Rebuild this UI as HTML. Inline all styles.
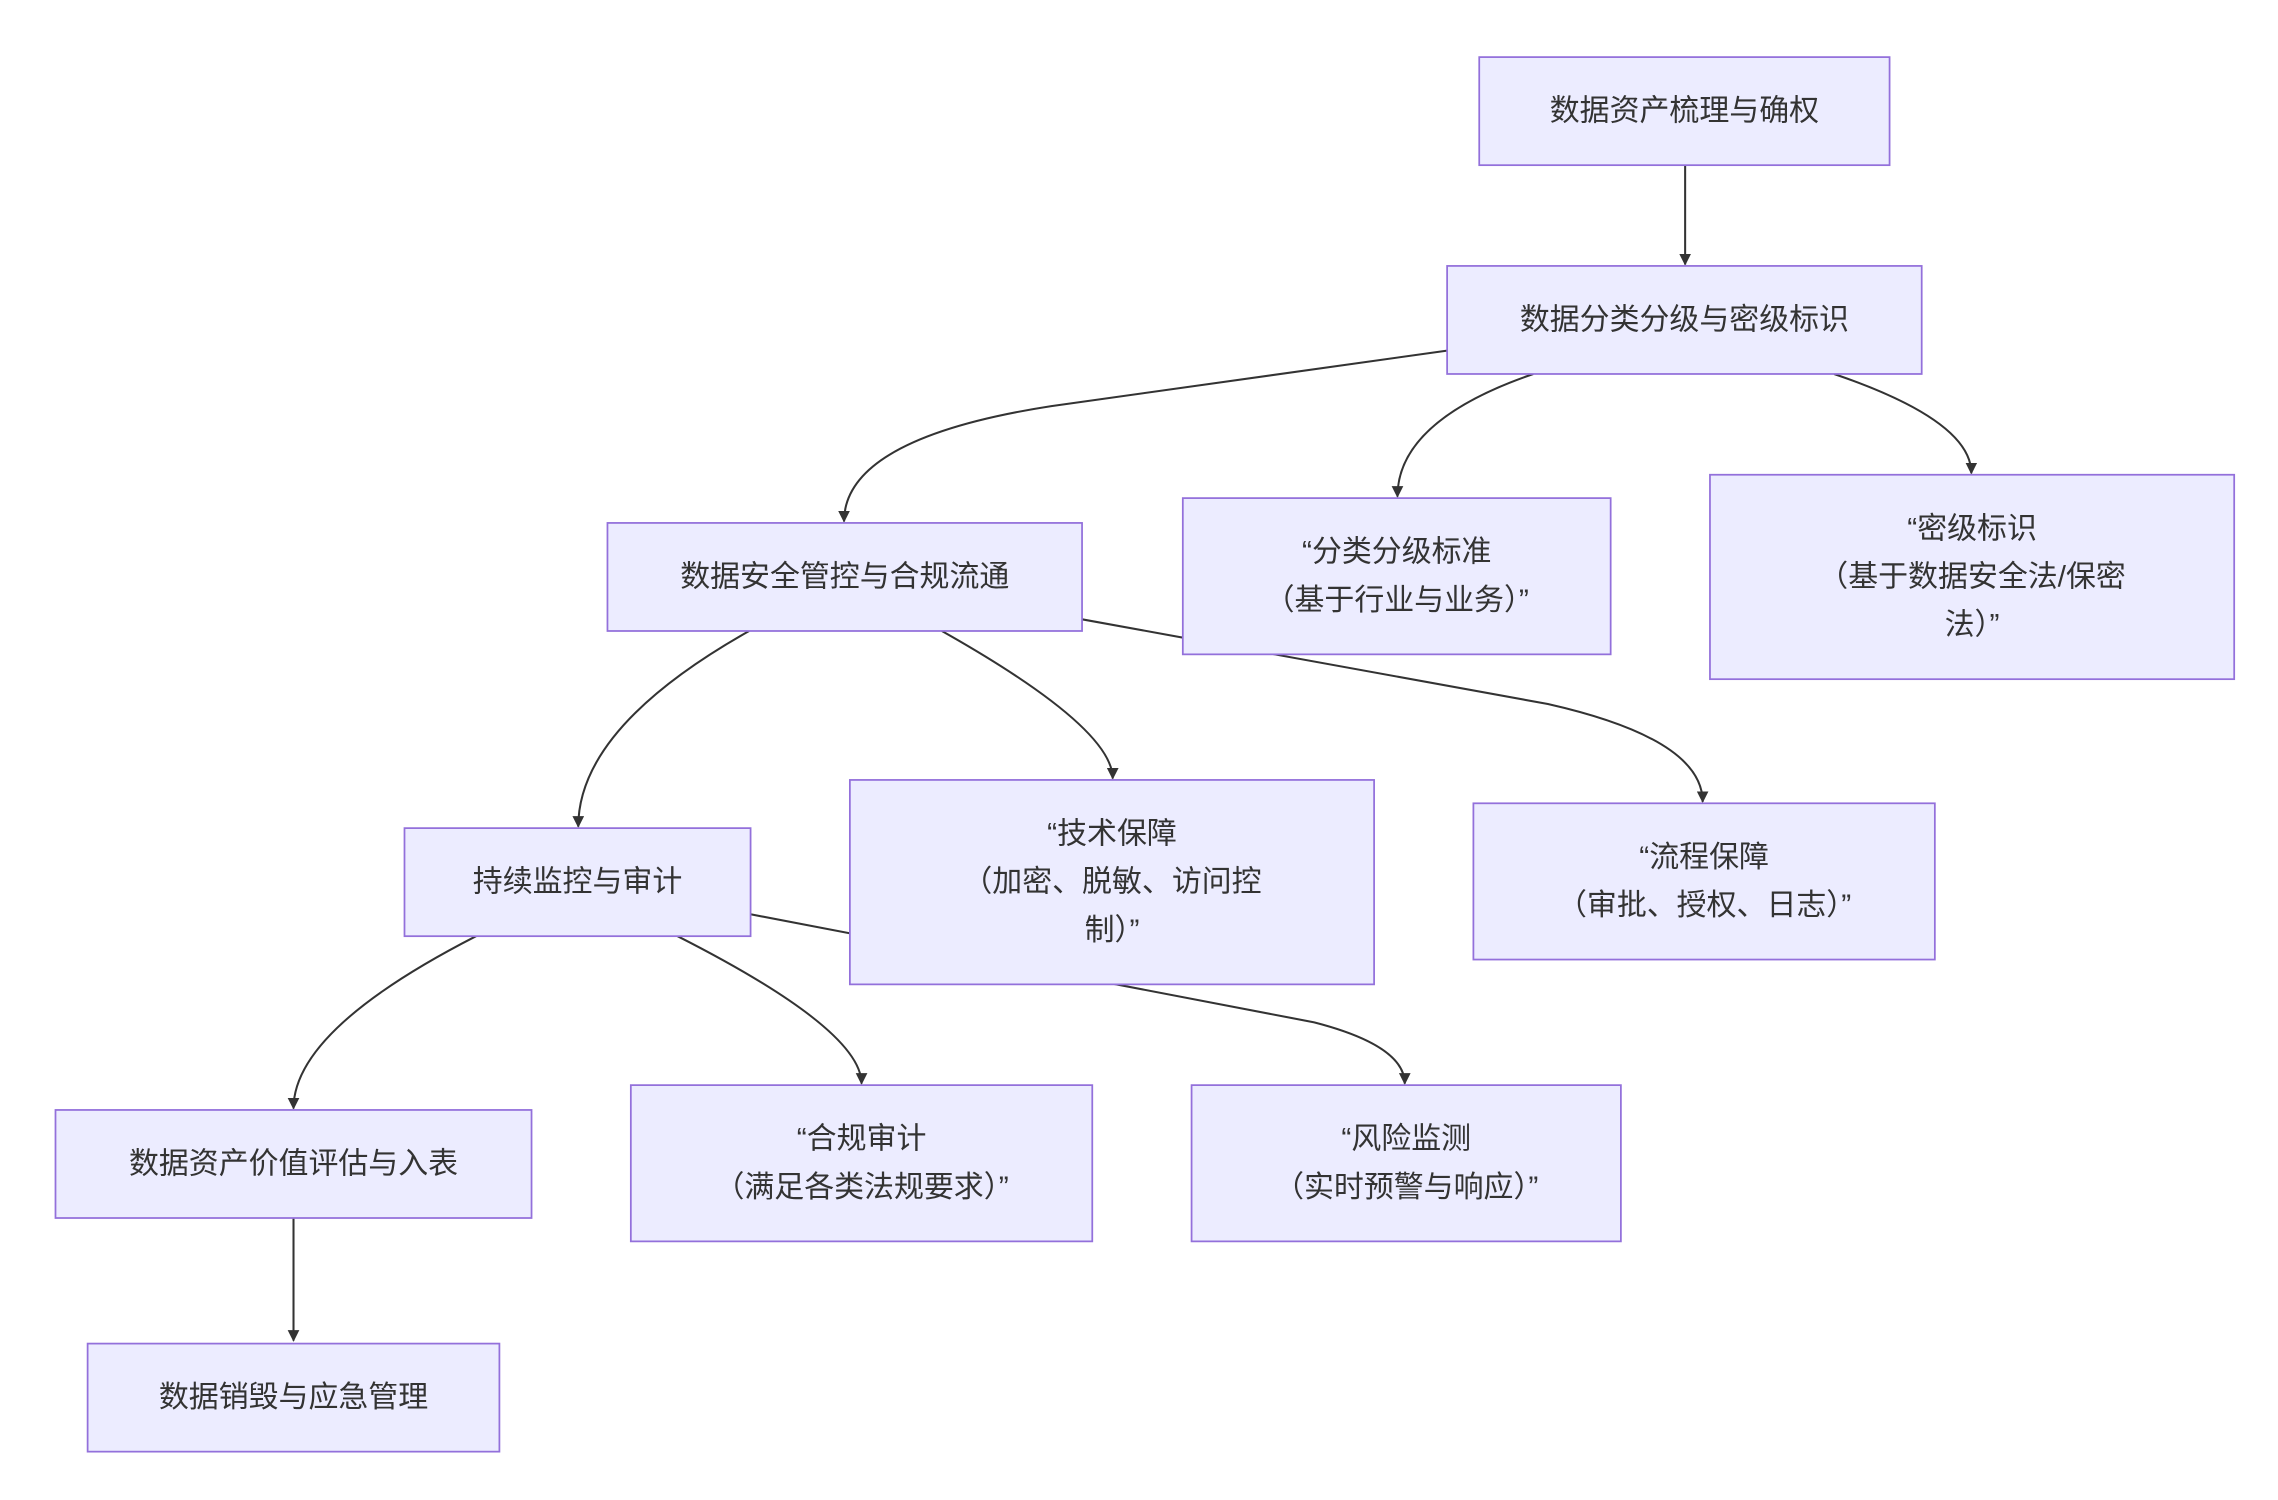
<!DOCTYPE html>
<html><head><meta charset="utf-8"><style>
html,body{margin:0;padding:0;background:#fff;}
svg{display:block;}
text{font-family:"Liberation Sans","Noto Sans CJK SC",sans-serif;font-size:20.5px;fill:#333;text-anchor:middle;dominant-baseline:central;}
.b{fill:#ECECFF;stroke:#9370DB;stroke-width:1.2;}
.e{fill:none;stroke:#333;stroke-width:1.4;}
</style></head><body>
<svg width="2278" height="1500" viewBox="0 0 1560 1027" xmlns="http://www.w3.org/2000/svg">
<defs><marker id="a" viewBox="0 0 10 10" refX="9" refY="5" markerWidth="8" markerHeight="8" orient="auto-start-reverse" markerUnits="userSpaceOnUse"><path d="M0,0 L10,5 L0,10 z" fill="#333"/></marker></defs>
<g class="e">
<path d="M1154,113 L1154,181" marker-end="url(#a)"/>
<path d="M991,240 L720,278 Q578,300 578,357" marker-end="url(#a)"/>
<path d="M1050,256 Q957,288 957,340" marker-end="url(#a)"/>
<path d="M1256,256 Q1350,288 1350,324" marker-end="url(#a)"/>
<path d="M513,432 Q396,498 396,566" marker-end="url(#a)"/>
<path d="M645,432 Q762,498 762,533" marker-end="url(#a)"/>
<path d="M741,424 L1060,482 Q1166,506 1166,549" marker-end="url(#a)"/>
<path d="M326,641 Q201,705 201,759" marker-end="url(#a)"/>
<path d="M464,641 Q590,705 590,742" marker-end="url(#a)"/>
<path d="M514,626 L900,700 Q962,716 962,742" marker-end="url(#a)"/>
<path d="M201,834 L201,918" marker-end="url(#a)"/>
</g>
<rect class="b" x="1013" y="39" width="281" height="74"/>
<text x="1153.5" y="76">数据资产梳理与确权</text>
<rect class="b" x="991" y="182" width="325" height="74"/>
<text x="1153.5" y="219">数据分类分级与密级标识</text>
<rect class="b" x="416" y="358" width="325" height="74"/>
<text x="578.5" y="395">数据安全管控与合规流通</text>
<rect class="b" x="810" y="341" width="293" height="107"/>
<text x="956.5" y="378">“分类分级标准</text>
<text x="956.5" y="411">（基于行业与业务）”</text>
<rect class="b" x="1171" y="325" width="359" height="140"/>
<text x="1350.5" y="362">“密级标识</text>
<text x="1350.5" y="395">（基于数据安全法/保密</text>
<text x="1350.5" y="428">法）”</text>
<rect class="b" x="277" y="567" width="237" height="74"/>
<text x="395.5" y="604">持续监控与审计</text>
<rect class="b" x="582" y="534" width="359" height="140"/>
<text x="761.5" y="571">“技术保障</text>
<text x="761.5" y="604">（加密、脱敏、访问控</text>
<text x="761.5" y="637">制）”</text>
<rect class="b" x="1009" y="550" width="316" height="107"/>
<text x="1167" y="587">“流程保障</text>
<text x="1167" y="620">（审批、授权、日志）”</text>
<rect class="b" x="38" y="760" width="326" height="74"/>
<text x="201" y="797">数据资产价值评估与入表</text>
<rect class="b" x="432" y="743" width="316" height="107"/>
<text x="590" y="780">“合规审计</text>
<text x="590" y="813">（满足各类法规要求）”</text>
<rect class="b" x="816" y="743" width="294" height="107"/>
<text x="963" y="780">“风险监测</text>
<text x="963" y="813">（实时预警与响应）”</text>
<rect class="b" x="60" y="920" width="282" height="74"/>
<text x="201" y="957">数据销毁与应急管理</text>
</svg>
</body></html>
